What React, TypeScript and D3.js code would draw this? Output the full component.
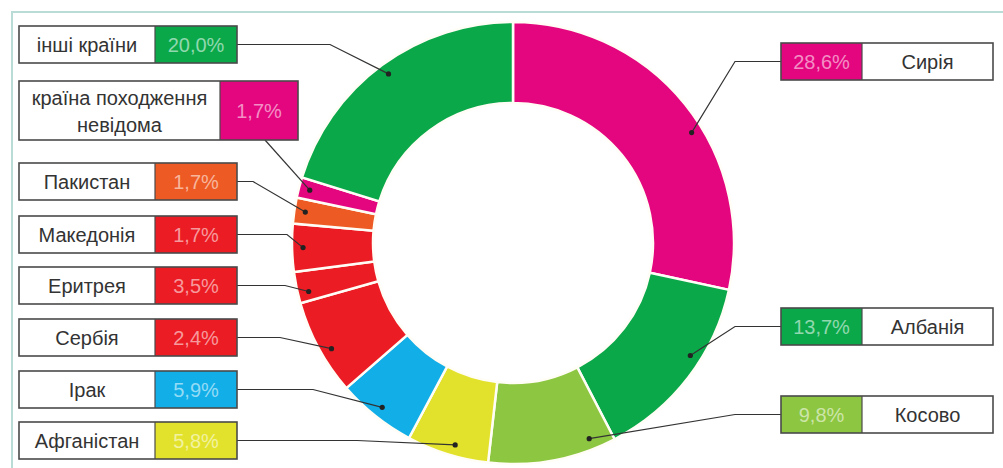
import React from 'react';
import * as d3 from 'd3';

// Countries, clockwise from 12 o'clock
const countries = [
  'Сирія',
  'Албанія',
  'Косово',
  'Афганістан',
  'Ірак',
  'Сербія',
  'Еритрея',
  'Македонія',
  'Пакистан',
  'країна походження невідома',
  'інші країни',
];

// Percentages as printed in the boxes
const printedLabels = ['28,6%', '13,7%', '9,8%', '5,8%', '5,9%', '2,4%', '3,5%', '1,7%', '1,7%', '1,7%', '20,0%'];

// Arc shares as drawn in the ring (the printed figures only add up to 94.8)
const arcShares = [28.4, 14.0, 9.4, 6.0, 5.8, 7.0, 2.3, 3.5, 1.9, 1.5, 20.2];

const sliceColors = [
  '#e4067f', '#0ba84a', '#8dc640', '#e2e22c', '#12aee8', '#ec1c24',
  '#ec1c24', '#ec1c24', '#ee5a24', '#e4067f', '#0ba84a',
];

// Box placement for each label (layout only)
type Placement = {
  side: 'left' | 'right';
  y: number;
  h?: number;
  wide?: boolean;
  elbowX?: number;
  at?: number; // where along the arc the leader dot sits
};

const placements: Placement[] = [
  { side: 'right', y: 43, elbowX: 735, at: 0.57 },
  { side: 'right', y: 308, elbowX: 735, at: 0.4 },
  { side: 'right', y: 396, elbowX: 735, at: 0.18 },
  { side: 'left', y: 422, elbowX: 357, at: 0.44 },
  { side: 'left', y: 371, elbowX: 313 },
  { side: 'left', y: 319, elbowX: 280, at: 0.43 },
  { side: 'left', y: 267, elbowX: 285, at: 0.3 },
  { side: 'left', y: 216, elbowX: 287 },
  { side: 'left', y: 163, elbowX: 253 },
  { side: 'left', y: 81, h: 59, wide: true },
  { side: 'left', y: 26, elbowX: 330 },
];

const W = 1003;
const H = 468;
const cx = 513;
const cy = 243;
const outerR = 221;
const innerR = 140;
const dotR = outerR - 11;
const FONT = '"Liberation Sans", Arial, sans-serif';

const App: React.FC = () => {
  React.useEffect(() => {
    document.body.style.margin = '0';
    document.body.style.overflow = 'hidden';
  }, []);

  const pie = d3.pie<number>().sort(null).value(d => d);
  const arcs = pie(arcShares);
  const arc = d3.arc<d3.PieArcDatum<number>>().innerRadius(innerR).outerRadius(outerR);

  const tint = (c: string) => d3.interpolateRgb(c, '#ffffff')(0.55);

  return (
    <svg width={W} height={H} style={{ position: 'absolute', left: 0, top: 0, background: '#fff' }}>
      {/* frame */}
      <path d={`M12,${H} V12 H${W}`} fill="none" stroke="#b9ddd6" strokeWidth={2} />

      <g transform={`translate(${cx},${cy})`}>
        {arcs.map((a, i) => (
          <path key={i} d={arc(a) || ''} fill={sliceColors[i]} stroke="#fffdf6" strokeWidth={2.5} />
        ))}
      </g>

      {arcs.map((a, i) => {
        const p = placements[i];
        const h = p.h ?? 37;
        const frac = p.at ?? 0.5;
        const ang = a.startAngle + (a.endAngle - a.startAngle) * frac;
        const dx = cx + dotR * Math.sin(ang);
        const dy = cy - dotR * Math.cos(ang);
        const midY = p.y + h / 2;
        const name = countries[i];
        const lines = p.wide ? ['країна походження', 'невідома'] : [name];

        let boxX: number, whiteW: number, colW: number, colX: number, whiteX: number;
        if (p.side === 'left') {
          boxX = 19;
          whiteW = p.wide ? 201 : 136;
          colW = p.wide ? 78 : 82;
          whiteX = boxX;
          colX = boxX + whiteW;
        } else {
          boxX = 781;
          colW = 81;
          whiteW = 131;
          colX = boxX;
          whiteX = boxX + colW;
        }
        const boxW = whiteW + colW;

        let leader: [number, number][];
        if (p.wide) {
          leader = [[colX + 45, p.y + h], [dx, dy]];
        } else if (p.side === 'left') {
          leader = [[boxX + boxW, midY], [p.elbowX!, midY], [dx, dy]];
        } else {
          leader = [[boxX, midY], [p.elbowX!, midY], [dx, dy]];
        }

        return (
          <g key={name}>
            <path d={d3.line()(leader) || ''} fill="none" stroke="#333" strokeWidth={1.2} />
            <circle cx={dx} cy={dy} r={2.6} fill="#222" />
            <rect x={whiteX} y={p.y} width={whiteW} height={h} fill="#fff" />
            <rect x={colX} y={p.y} width={colW} height={h} fill={sliceColors[i]} />
            <rect x={boxX} y={p.y} width={boxW} height={h} fill="none" stroke="#4a4a4a" strokeWidth={1.6} />
            <line x1={colX + (p.side === 'left' ? 0 : colW)} x2={colX + (p.side === 'left' ? 0 : colW)} y1={p.y} y2={p.y + h} stroke="#4a4a4a" strokeWidth={1.2} />
            {lines.map((t, k) => (
              <text
                key={k}
                x={whiteX + whiteW / 2}
                y={midY + 7.5 + (k - (lines.length - 1) / 2) * 27}
                textAnchor="middle"
                fontFamily={FONT}
                fontSize={20}
                fill="#333"
              >
                {t}
              </text>
            ))}
            <text
              x={colX + colW / 2}
              y={midY + 7.5}
              textAnchor="middle"
              fontFamily={FONT}
              fontSize={20}
              fill={tint(sliceColors[i])}
            >
              {printedLabels[i]}
            </text>
          </g>
        );
      })}
    </svg>
  );
};

export default App;
